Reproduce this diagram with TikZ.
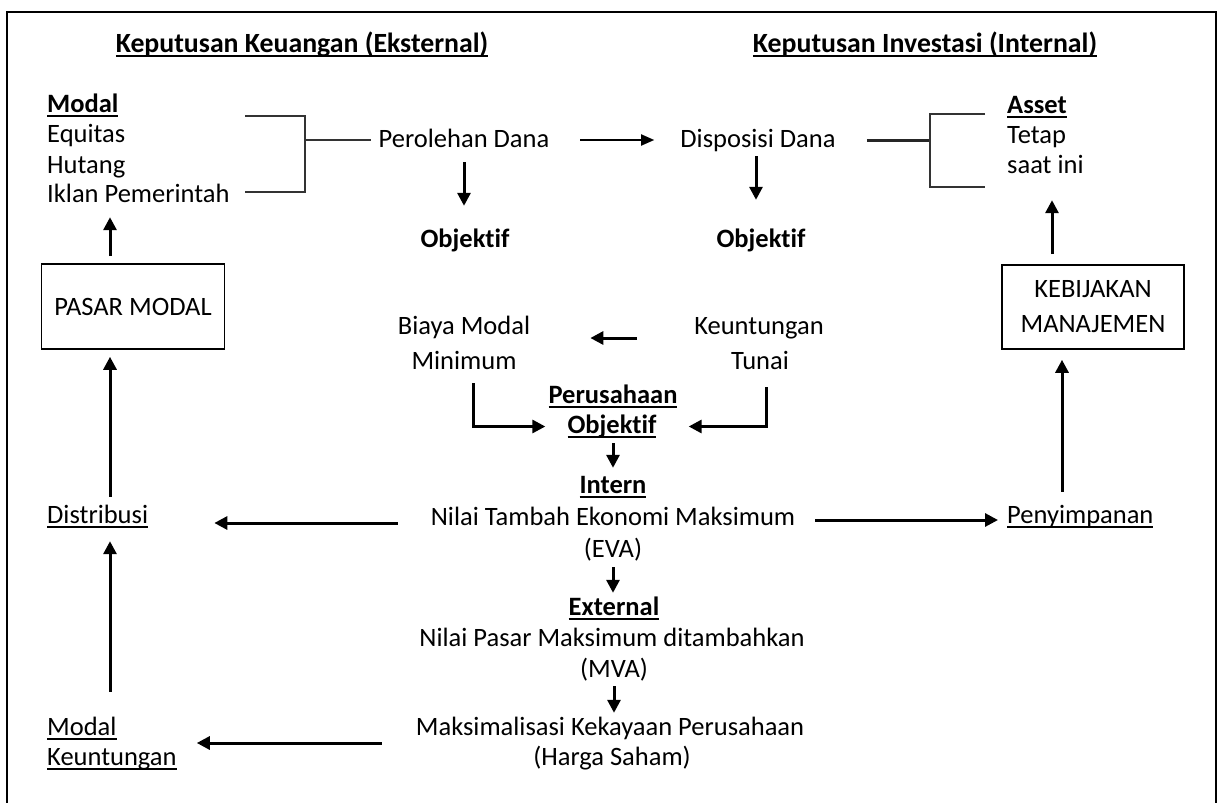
\documentclass[tikz,border=0pt]{standalone}
\usepackage{fontspec}
\setmainfont[Ligatures={NoCommon}]{Carlito}
\usetikzlibrary{arrows.meta}
\newcommand\myul[1]{\setbox0\hbox{#1}\rlap{\rule[-4.5pt]{\wd0}{1.4pt}}\box0}
\begin{document}
\begin{tikzpicture}[x=1pt,y=-1pt,
  t/.style={inner sep=0pt, text height=19pt, text depth=6pt, anchor=base, font=\fontsize{26.5}{31}\selectfont},
  tl/.style={t, anchor=base west},
  b/.style={font=\fontsize{26.5}{31}\selectfont\bfseries},
  hd/.style={font=\fontsize{27.8}{31}\selectfont\bfseries},
  boxn/.style={draw, line width=1.6pt, inner sep=0pt, font=\fontsize{26.5}{31}\selectfont, align=center},
  ar/.style={line width=3pt, -{Triangle[length=13pt,width=13pt]}},
  arthin/.style={line width=1.8pt, -{Triangle[length=13pt,width=11pt]}},
  brk/.style={line width=1.6pt, draw=black!80},
  thick2/.style={line width=3pt, draw=black!85}]
\useasboundingbox (0,0) rectangle (1219,803);
\draw[line width=2pt] (7,12) rectangle (1216,806);
% row / column helper coordinates
\coordinate (r1) at (0,140);
\coordinate (r5) at (0,523);
\coordinate (r6) at (0,520);
\coordinate (r7) at (0,743);
\coordinate (r4) at (0,338);
\coordinate (cL) at (110,0);
\coordinate (cR1) at (1052,0);
\coordinate (cR2) at (1062,0);
\coordinate (cB) at (473,0);
\coordinate (cK) at (766,0);
% headings
\node[t,hd] (hk) at (302,52) {\myul{Keputusan Keuangan (Eksternal)}};
\node[t,hd] (hi) at (925,52) {\myul{Keputusan Investasi (Internal)}};
% left list
\node[tl,b] (modal) at (47,112) {\myul{Modal}};
\node[tl] (equitas) at (47,142) {Equitas};
\node[tl] (hutang) at (47,173) {Hutang};
\node[tl] (iklan) at (47,202) {Iklan Pemerintah};
% top row
\node[t] (perolehan) at (464,147) {Perolehan Dana};
\node[t] (disposisi) at (758,147) {Disposisi Dana};
% right list
\node[tl,b] (asset) at (1007,113) {\myul{Asset}};
\node[tl] (tetap) at (1007,143) {Tetap};
\node[tl] (saat) at (1007,173) {saat ini};
% objektif
\node[t,b] (obj1) at (465,247) {Objektif};
\node[t,b] (obj2) at (761,247) {Objektif};
% boxes
\node[boxn, minimum width=183pt, minimum height=85pt] (pasar) at (133,306.5) {PASAR MODAL};
\node[boxn, minimum width=182pt, minimum height=84pt] (keb) at (1093,307) {KEBIJAKAN\\[4pt]MANAJEMEN};
% middle
\node[t] (biaya) at (464,334) {Biaya Modal};
\node[t] (minimum) at (464,369) {Minimum};
\node[t] (keunt) at (759,334) {Keuntungan};
\node[t] (tunai) at (760,369) {Tunai};
\node[t,b] (perus) at (613,403) {\myul{Perusahaan}};
\node[t,b] (objp) at (612,433) {\myul{Objektif}};
\node[t,b] (intern) at (613,493) {\myul{Intern}};
\node[t] (nilai) at (613,525) {Nilai Tambah Ekonomi Maksimum};
\node[t] (eva) at (613,557) {(EVA)};
\node[t,b] (external) at (614,615) {\myul{External}};
\node[t] (npasar) at (612,646) {Nilai Pasar Maksimum ditambahkan};
\node[t] (mva) at (614,677) {(MVA)};
\node[t] (maks) at (610,735) {Maksimalisasi Kekayaan Perusahaan};
\node[t] (harga) at (612,765) {(Harga Saham)};
% left bottom
\node[tl] (distribusi) at (47,523) {\myul{Distribusi}};
\node[tl] (modala) at (47,735) {\myul{Modal}};
\node[tl] (modalb) at (47,765) {\myul{Keuntungan}};
% right middle
\node[tl] (peny) at (1007,523) {\myul{Penyimpanan}};
% brackets
\draw[brk] (245,116) -- (305,116) -- (305,192) -- (245,192);
\coordinate (bl) at (305,140);
\draw[brk, shorten >=8pt] (bl) -- (perolehan.west |- r1);
\coordinate (br) at (930,140);
\draw[thick2, shorten <=31pt] (disposisi.east |- r1) -- (br);
\draw[brk] (985,114) -- (930,114) -- (930,187) -- (985,187);
% arrows
\draw[arthin, shorten <=31pt, shorten >=26pt] (perolehan.east |- r1) -- (disposisi.west |- r1);
\draw[ar, shorten <=9pt, shorten >=22pt] (perolehan.south) -- (obj1.north -| perolehan.south);
\draw[ar, shorten <=3pt, shorten >=28pt] (disposisi.south -| 756,0) -- (obj2.north -| 756,0);
\draw[ar, shorten <=7pt, shorten >=9pt] (cL |- pasar.north) -- (cL |- iklan.south);
\draw[ar, shorten <=7pt, shorten >=7pt] (cL |- distribusi.north) -- (cL |- pasar.south);
\draw[ar, shorten <=24pt, shorten >=12pt] (cL |- modala.north) -- (cL |- distribusi.south);
\draw[ar, shorten <=33pt, shorten >=66pt] (nilai.west |- r5) -- (distribusi.east |- r5);
\draw[ar, shorten <=34pt, shorten >=20pt] (maks.west |- r7) -- (modalb.east |- r7);
\draw[ar, shorten <=20pt, shorten >=9pt] (nilai.east |- r6) -- (peny.west |- r6);
\draw[ar, shorten <=12pt, shorten >=10pt] (cR2 |- peny.north) -- (cR2 |- keb.south);
\draw[ar, shorten <=10pt, shorten >=21pt] (cR1 |- keb.north) -- (cR1 |- saat.south);
\draw[ar, shorten <=57pt, shorten >=60pt] (keunt.west |- r4) -- (biaya.east |- r4);
\draw[ar, shorten <=8pt, shorten >=22pt] (cB |- minimum.south) |- (objp.west);
\draw[ar, shorten <=12pt, shorten >=32pt] (cK |- tunai.south) |- (objp.east);
\draw[ar, shorten <=4pt, shorten >=6pt] (objp.south -| intern.north) -- (intern.north);
\draw[ar, shorten <=4pt, shorten >=3pt] (eva.south) -- (external.north -| eva.south);
\draw[ar, shorten <=3pt, shorten >=3pt] (mva.south) -- (maks.north -| mva.south);
\end{tikzpicture}
\end{document}
